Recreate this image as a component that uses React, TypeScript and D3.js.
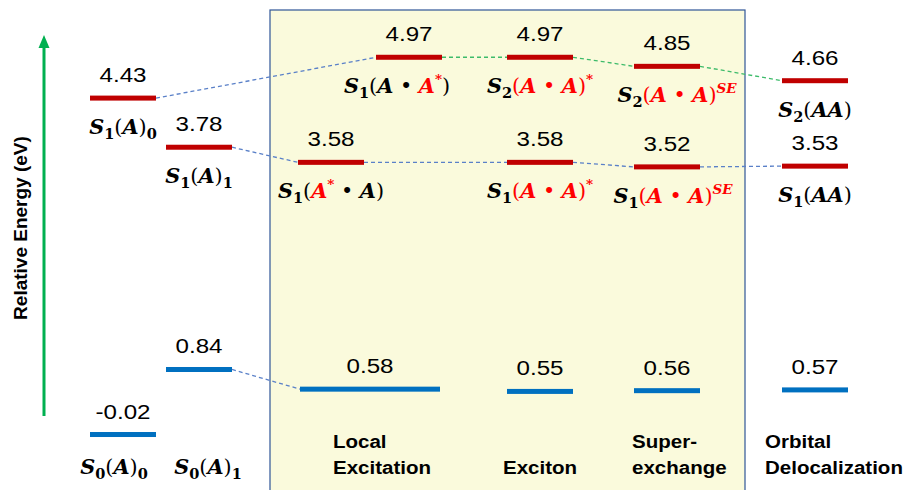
import React from "react";
import * as d3 from "d3";

const W = 907;
const H = 490;

// ---------- data ----------
const energyDomain = [0, 5];

const groundLevels = [
  { id: "g0", col: "A0", e: -0.02 },
  { id: "g1", col: "A1", e: 0.84 },
  { id: "gLE", col: "LE", e: 0.58 },
  { id: "gEX", col: "EX", e: 0.55 },
  { id: "gSE", col: "SE", e: 0.56 },
  { id: "gOD", col: "OD", e: 0.57 },
];

const excitedLevels = [
  { id: "a0", col: "A0", e: 4.43 },
  { id: "a1", col: "A1", e: 3.78 },
  { id: "le2", col: "LEb", e: 4.97 },
  { id: "le1", col: "LEa", e: 3.58 },
  { id: "ex2", col: "EX", e: 4.97 },
  { id: "ex1", col: "EX", e: 3.58 },
  { id: "se2", col: "SE", e: 4.85 },
  { id: "se1", col: "SE", e: 3.52 },
  { id: "od2", col: "OD", e: 4.66 },
  { id: "od1", col: "OD", e: 3.53 },
];

const connections: [string, string, string][] = [
  ["a0", "le2", "blue"],
  ["a1", "le1", "blue"],
  ["le2", "ex2", "green"],
  ["le1", "ex1", "blue"],
  ["ex2", "se2", "green"],
  ["ex1", "se1", "blue"],
  ["se2", "od2", "green"],
  ["se1", "od1", "blue"],
  ["g1", "gLE", "blue"],
];

type Seg = [string, string, number?];
const nameLabels: Record<string, Seg[]> = {
  a0: [["S", "i"], ["1", "sub"], ["(", "r"], ["A", "i"], [")", "r"], ["0", "sub"]],
  a1: [["S", "i"], ["1", "sub"], ["(", "r"], ["A", "i"], [")", "r"], ["1", "sub"]],
  le2: [["S", "i"], ["1", "sub"], ["(", "r"], ["A", "i"], [" • ", "r"], ["A", "i", 1], ["*", "sup", 1], [")", "r"]],
  le1: [["S", "i"], ["1", "sub"], ["(", "r"], ["A", "i", 1], ["*", "sup", 1], [" • ", "r"], ["A", "i"], [")", "r"]],
  ex2: [["S", "i"], ["2", "sub"], ["(", "r", 1], ["A", "i", 1], [" • ", "r", 1], ["A", "i", 1], [")", "r", 1], ["*", "sup", 1]],
  ex1: [["S", "i"], ["1", "sub"], ["(", "r", 1], ["A", "i", 1], [" • ", "r", 1], ["A", "i", 1], [")", "r", 1], ["*", "sup", 1]],
  se2: [["S", "i"], ["2", "sub"], ["(", "r", 1], ["A", "i", 1], [" • ", "r", 1], ["A", "i", 1], [")", "r", 1], ["SE", "supi", 1]],
  se1: [["S", "i"], ["1", "sub"], ["(", "r", 1], ["A", "i", 1], [" • ", "r", 1], ["A", "i", 1], [")", "r", 1], ["SE", "supi", 1]],
  od2: [["S", "i"], ["2", "sub"], ["(", "r"], ["AA", "i"], [")", "r"]],
  od1: [["S", "i"], ["1", "sub"], ["(", "r"], ["AA", "i"], [")", "r"]],
  g0: [["S", "i"], ["0", "sub"], ["(", "r"], ["A", "i"], [")", "r"], ["0", "sub"]],
  g1: [["S", "i"], ["0", "sub"], ["(", "r"], ["A", "i"], [")", "r"], ["1", "sub"]],
};

const categoryLabels = [
  { col: "LE", lines: ["Local", "Excitation"] },
  { col: "EX", lines: ["Exciton"] },
  { col: "SE", lines: ["Super-", "exchange"] },
  { col: "OD", lines: ["Orbital", "Delocalization"] },
];

const axisTitle = "Relative Energy (eV)";

// ---------- layout ----------
const columnKeys = ["A0", "A1", "LEa", "LEb", "EX", "SE", "OD"];
const columnCenters = [123, 199, 331, 409, 540, 667, 815];
const BAR_W = 66;
const BAR_H = 5;
const catX: Record<string, [number, string]> = {
  LE: [333, "start"],
  EX: [540, "middle"],
  SE: [632, "start"],
  OD: [765, "start"],
};
const nameShift: Record<string, number> = { g0: -9, g1: 9, se2: 10, se1: 6, le2: -12 };

const RED = "#c00000";
const BLUE = "#0070c0";
const LABEL_RED = "#ff0000";
const DASH_BLUE = "#5a80c8";
const DASH_GREEN = "#3dbb6a";
const SANS = "'Liberation Sans', Arial, sans-serif";
const SERIF = "'DejaVu Serif', 'Liberation Serif', serif";

const y = d3.scaleLinear().domain(energyDomain).range([433, 55]);
const xc = d3.scaleOrdinal<string, number>().domain(columnKeys).range(columnCenters);

function extent(col: string): [number, number] {
  if (col === "LE") return [xc("LEa") - BAR_W / 2 + 2, xc("LEb") + BAR_W / 2 - 2];
  const c = xc(col);
  return [c - BAR_W / 2, c + BAR_W / 2];
}

const allLevels = [
  ...groundLevels.map((d) => ({ ...d, kind: "g" })),
  ...excitedLevels.map((d) => ({ ...d, kind: "e" })),
];
const byId: Record<string, any> = {};
allLevels.forEach((d) => (byId[d.id] = d));

function MathLabel({ x, yy, segs }: { x: number; yy: number; segs: Seg[] }) {
  let shift = 0;
  const fs = 20;
  return (
    <text
      transform={`translate(${x},${yy}) scale(1.04,1)`}
      textAnchor="middle"
      fontFamily={SERIF}
      fontSize={fs}
      style={{ whiteSpace: "pre" }}
    >
      {segs.map(([t, kind, red], i) => {
        let target = 0;
        let size = fs;
        let weight: any = "bold";
        let styleI = "italic";
        if (kind === "sub") {
          target = 5;
          size = 14;
          styleI = "normal";
        } else if (kind === "sup" || kind === "supi") {
          target = -9;
          size = 13;
          styleI = kind === "supi" ? "italic" : "normal";
        } else if (kind === "r") {
          weight = "normal";
          styleI = "normal";
        }
        const dy = target - shift;
        shift = target;
        return (
          <tspan
            key={i}
            dy={dy}
            fontSize={size}
            fontWeight={weight}
            fontStyle={styleI}
            fill={red ? LABEL_RED : "#000"}
          >
            {t}
          </tspan>
        );
      })}
    </text>
  );
}

export default function App() {
  const groundNameY = y(d3.min(groundLevels, (d) => d.e) as number) + 39;
  return (
    <svg
      width={W}
      height={H}
      viewBox={`0 0 ${W} ${H}`}
      style={{ position: "absolute", left: 0, top: 0, background: "#fff" }}
    >
      <rect x={270} y={10} width={475} height={H + 10} fill="#fafadc" stroke="#2f5597" strokeWidth={1.2} />

      {/* axis arrow */}
      <line x1={44} x2={44} y1={416} y2={46} stroke="#00b050" strokeWidth={3} />
      <polygon points="44,35 38.5,48 49.5,48" fill="#00b050" />
      <text
        transform={`translate(27,228) rotate(-90)`}
        textAnchor="middle"
        fontFamily={SANS}
        fontWeight="bold"
        fontSize={19}
      >
        {axisTitle}
      </text>

      {/* connectors */}
      {connections.map(([a, b, c], i) => {
        const A = byId[a];
        const B = byId[b];
        return (
          <line
            key={i}
            x1={extent(A.col)[1]}
            y1={y(A.e)}
            x2={extent(B.col)[0]}
            y2={y(B.e)}
            stroke={c === "green" ? DASH_GREEN : DASH_BLUE}
            strokeWidth={1.3}
            strokeDasharray="4 3"
          />
        );
      })}

      {/* bars */}
      {allLevels.map((d) => {
        const [x0, x1] = extent(d.col);
        return (
          <rect
            key={d.id}
            x={x0}
            y={y(d.e) - BAR_H / 2}
            width={x1 - x0}
            height={BAR_H}
            fill={d.kind === "g" ? BLUE : RED}
          />
        );
      })}

      {/* values */}
      {allLevels.map((d) => {
        const [x0, x1] = extent(d.col);
        return (
          <text
            key={"v" + d.id}
            transform={`translate(${(x0 + x1) / 2},${y(d.e) - 16}) scale(1.15,1)`}
            textAnchor="middle"
            fontFamily={SANS}
            fontSize={21}
            fill="#000"
          >
            {d.e.toFixed(2)}
          </text>
        );
      })}

      {/* names */}
      {allLevels.map((d) => {
        const [x0, x1] = extent(d.col);
        const isS0 = d.id === "g0" || d.id === "g1";
        const segs = nameLabels[d.id];
        if (!segs) return null;
        return (
          <MathLabel
            key={"n" + d.id}
            x={(x0 + x1) / 2 + (nameShift[d.id] || 0)}
            yy={isS0 ? groundNameY : y(d.e) + 36}
            segs={segs}
          />
        );
      })}

      {/* categories */}
      {categoryLabels.map((c) => {
        const [cx, anchor] = catX[c.col];
        const n = c.lines.length;
        return (
          <text
            key={c.col}
            transform={`translate(${cx},0) scale(1.08,1)`}
            textAnchor={anchor as any}
            fontFamily={SANS}
            fontWeight="bold"
            fontSize={19}
          >
            {c.lines.map((l, i) => (
              <tspan key={i} x={0} y={474 - (n - 1 - i) * 26}>
                {l}
              </tspan>
            ))}
          </text>
        );
      })}
    </svg>
  );
}
